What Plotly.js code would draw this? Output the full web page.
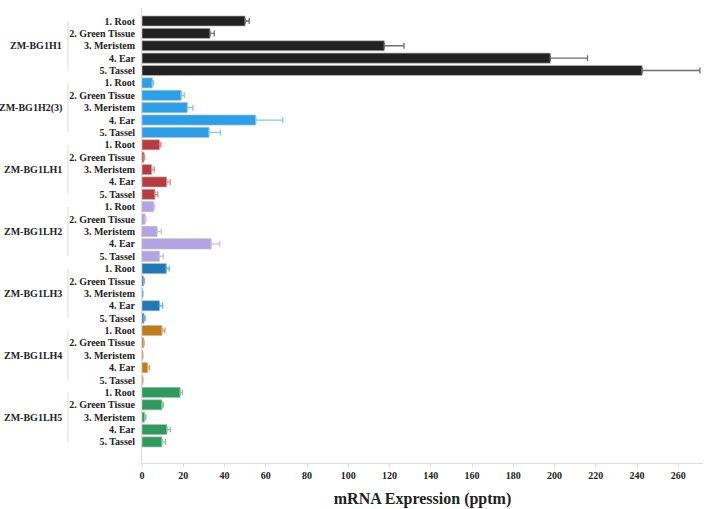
<!DOCTYPE html>
<html>
<head>
<meta charset="utf-8">
<script src="https://cdn.plot.ly/plotly-3.0.1.min.js"></script>
<style>html,body{margin:0;padding:0;background:#fff;}#chart{width:709px;height:509px;}</style>
</head>
<body>
<div id="chart"></div>
<script>
const genes = ["ZM-BG1H1", "ZM-BG1H2(3)", "ZM-BG1LH1", "ZM-BG1LH2", "ZM-BG1LH3", "ZM-BG1LH4", "ZM-BG1LH5"];
const tissues = ["1. Root", "2. Green Tissue", "3. Meristem", "4. Ear", "5. Tassel"];

const valBG1H1  = [50, 33, 117.5, 198, 242.5];
const errBG1H1  = [2, 2, 9.5, 18, 28];
const valBG1H2  = [5, 19, 22, 55.2, 32.5];
const errBG1H2  = [0.5, 1.5, 2.7, 13, 5.5];
const valBG1LH1 = [8.5, 1, 4.7, 12, 6.3];
const errBG1LH1 = [0.7, 0.3, 1.3, 1.7, 1.3];
const valBG1LH2 = [5.6, 1.5, 7.3, 33.5, 8.4];
const errBG1LH2 = [0.5, 0.3, 2, 4.2, 1.9];
const valBG1LH3 = [11.8, 0.8, 0.3, 8.5, 1];
const errBG1LH3 = [1.4, 0.3, 0.1, 1.5, 0.5];
const valBG1LH4 = [9.7, 0.8, 0.3, 2.7, 0.3];
const errBG1LH4 = [1.4, 0.2, 0.1, 1, 0.1];
const valBG1LH5 = [18.5, 9.7, 1.3, 12.1, 9.7];
const errBG1LH5 = [1.1, 0.6, 0.6, 1.6, 1.7];

const values = [valBG1H1, valBG1H2, valBG1LH1, valBG1LH2, valBG1LH3, valBG1LH4, valBG1LH5];
const errors = [errBG1H1, errBG1H2, errBG1LH1, errBG1LH2, errBG1LH3, errBG1LH4, errBG1LH5];

const barColors = ["#222222", "#2aa0ea", "#b83c3e", "#b3a2e4", "#1f78b8", "#c47a17", "#2e9a5c"];
const errColors = ["#6e6e6e", "#7ec8f6", "#d98a8a", "#cabef2", "#6fb2e2", "#dca55e", "#7fca9c"];

const nT = tissues.length;
const traces = genes.map((g, gi) => ({
  type: "bar",
  orientation: "h",
  name: g,
  x: values[gi],
  y: tissues.map((t, ti) => gi * nT + ti),
  width: 0.82,
  marker: { color: barColors[gi], line: { color: "rgba(190,190,190,0.9)", width: 0.8 } },
  error_x: { type: "data", symmetric: false, array: errors[gi], arrayminus: errors[gi].map(() => 0), visible: true, color: errColors[gi], thickness: 1.3, width: 3 },
  hoverinfo: "x+y",
  showlegend: false
}));

const tickvals = [];
const ticktext = [];
genes.forEach((g, gi) => tissues.forEach((t, ti) => { tickvals.push(gi * nT + ti); ticktext.push(t); }));

const annotations = genes.map((g, gi) => ({
  text: "<b>" + g + "</b>",
  xref: "paper", yref: "y",
  x: -0.139, y: gi * nT + (nT - 1) / 2,
  xanchor: "right", yanchor: "middle",
  showarrow: false,
  font: { family: "Liberation Serif, Times New Roman, serif", size: 10, color: "#222" }
}));

const shapes = genes.map((g, gi) => ({
  type: "line", xref: "paper", yref: "y",
  x0: -0.132, x1: -0.132,
  y0: gi * nT, y1: gi * nT + nT - 1,
  line: { color: "#dddddd", width: 1 }
}));

const layout = {
  width: 709, height: 509,
  margin: { l: 142, r: 6, t: 8, b: 46 },
  paper_bgcolor: "#fff", plot_bgcolor: "#fff",
  barmode: "overlay",
  font: { family: "Liberation Serif, Times New Roman, serif", size: 10, color: "#222" },
  xaxis: {
    range: [0, 272],
    tickvals: [0, 20, 40, 60, 80, 100, 120, 140, 160, 180, 200, 220, 240, 260],
    ticks: "outside", ticklen: 3, tickcolor: "#dddddd",
    showgrid: false, zeroline: false,
    showline: true, linecolor: "#dddddd", linewidth: 1,
    tickfont: { family: "Liberation Serif, Times New Roman, serif", size: 10, color: "#222", weight: "bold" },
    title: { text: "<b>mRNA Expression (pptm)</b>", standoff: 12, font: { family: "Liberation Serif, Times New Roman, serif", size: 16, color: "#222" } }
  },
  yaxis: {
    range: [35.7, -1.05],
    tickvals: tickvals,
    ticktext: ticktext.map(t => "<b>" + t + "</b>"),
    ticks: "", showgrid: false, zeroline: false,
    showline: true, linecolor: "#dddddd", linewidth: 1,
    ticklabelstandoff: 4,
    tickfont: { family: "Liberation Serif, Times New Roman, serif", size: 10, color: "#222" }
  },
  annotations: annotations,
  shapes: shapes
};

Plotly.newPlot("chart", traces, layout, { displayModeBar: false, staticPlot: true });
</script>
</body>
</html>
